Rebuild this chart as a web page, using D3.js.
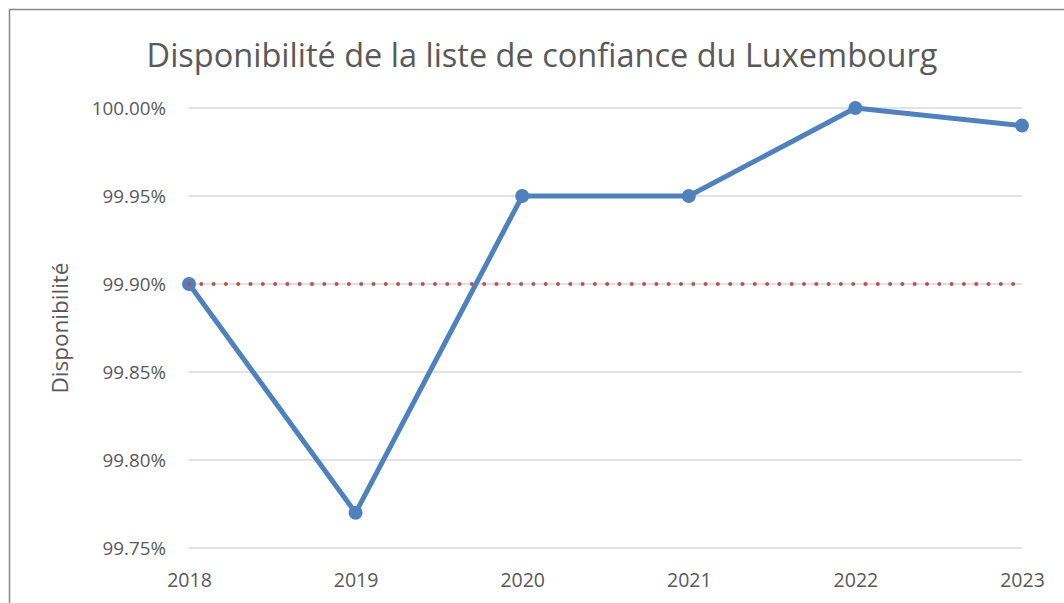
<!DOCTYPE html>
<html><head><meta charset="utf-8">
<script src="https://cdn.jsdelivr.net/npm/d3@7"></script>
<style>body{margin:0;background:#fff}svg{display:block}text{font-family:"Open Sans",sans-serif;fill:#595959}</style>
</head><body>
<svg id="c" width="1064" height="603"></svg>
<script>
const title = "Disponibilité de la liste de confiance du Luxembourg";
const yTitle = "Disponibilité";
const years = ["2018","2019","2020","2021","2022","2023"];
const availability = [99.90, 99.77, 99.95, 99.95, 100.00, 99.99];
const target = 99.90;
const yTicks = [99.75, 99.80, 99.85, 99.90, 99.95, 100.00];

const FONT = "'Open Sans',sans-serif";
const svg = d3.select("#c");
svg.append("rect").attr("x",9.5).attr("y",9.5).attr("width",1100).attr("height",700)
  .attr("fill","#fff").attr("stroke","#898989").attr("stroke-width",1.5);

const x = d3.scalePoint().domain(years).range([189,1022]);
const y = d3.scaleLinear().domain([99.75,100.00]).range([548,108]);

// gridlines
svg.append("g").selectAll("line").data(yTicks).join("line")
  .attr("x1",189).attr("x2",1022).attr("y1",d=>y(d)).attr("y2",d=>y(d))
  .attr("stroke","#d9d9d9").attr("stroke-width",1.5);

// y axis labels
const yAxis = d3.axisLeft(y).tickValues(yTicks).tickSize(0).tickPadding(0)
  .tickFormat(d=>d3.format(".2f")(d)+"%");
const gy = svg.append("g").attr("transform","translate(166,0)").call(yAxis);
gy.select(".domain").remove();
gy.selectAll("text").attr("font-size",18.8).attr("fill","#595959").style("font-family",FONT);

// x axis labels
const xAxis = d3.axisBottom(x).tickSize(0).tickPadding(0);
const gx = svg.append("g").attr("transform","translate(0,573)").call(xAxis);
gx.select(".domain").remove();
gx.selectAll("text").attr("font-size",19.5).attr("fill","#595959").attr("dy","0.71em").style("font-family",FONT);

// series line
const line = d3.line().x((d,i)=>x(years[i])).y(d=>y(d));
svg.append("path").datum(availability).attr("d",line)
  .attr("fill","none").attr("stroke","#4f81bd").attr("stroke-width",5).attr("stroke-linejoin","round");
svg.append("g").selectAll("circle").data(availability).join("circle")
  .attr("cx",(d,i)=>x(years[i])).attr("cy",d=>y(d)).attr("r",7).attr("fill","#4f81bd");

// target dotted line (drawn over the series)
svg.append("line").attr("x1",x(years[0])).attr("x2",x(years[years.length-1]))
  .attr("y1",y(target)).attr("y2",y(target))
  .attr("stroke","#c0504d").attr("stroke-width",4).attr("stroke-linecap","round")
  .attr("stroke-dasharray","0 12.3");

// titles
svg.append("text").attr("x",542).attr("y",67).attr("text-anchor","middle")
  .attr("font-size",32.5).text(title);
svg.append("text").attr("transform","translate(68,328) rotate(-90)").attr("text-anchor","middle")
  .attr("font-size",22.5).text(yTitle);
</script>
</body></html>
